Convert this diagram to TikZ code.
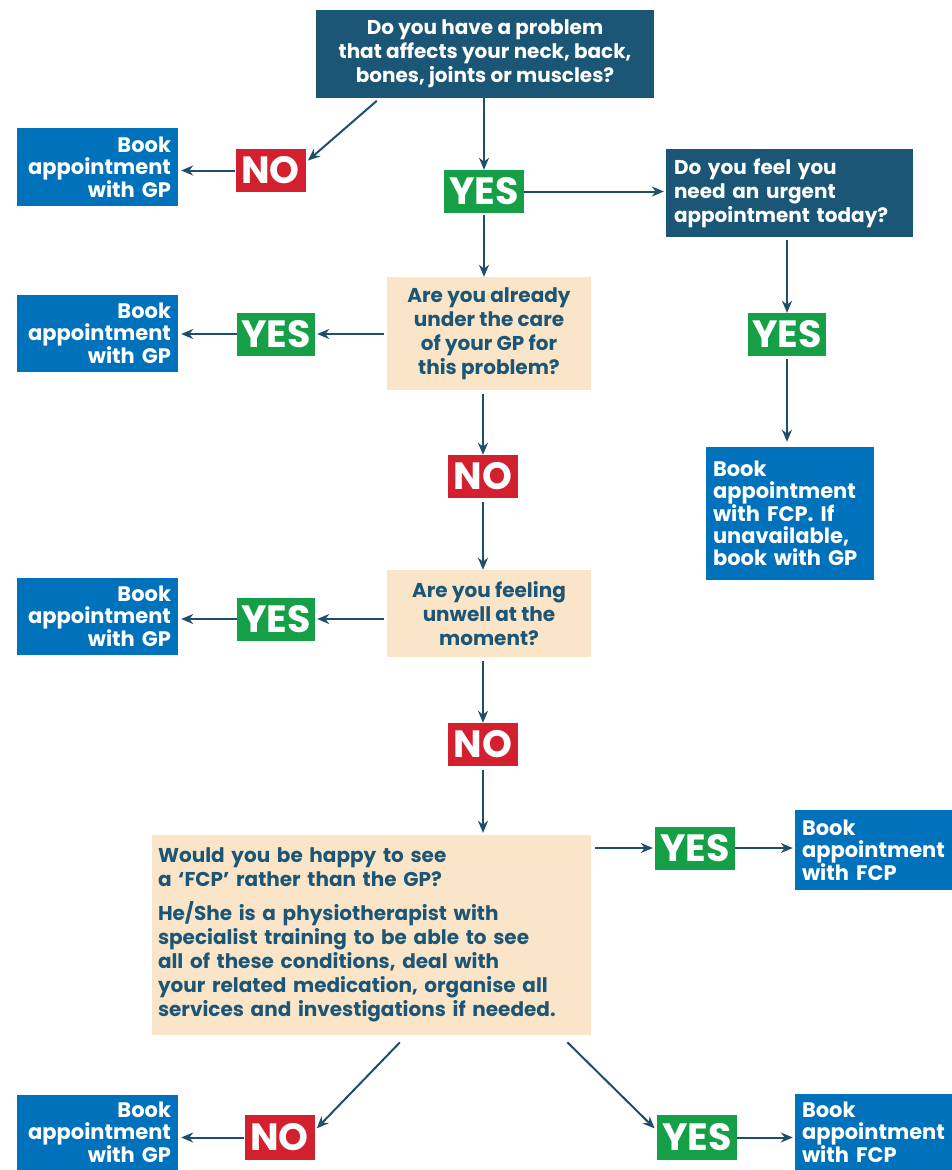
\documentclass[tikz,border=0pt]{standalone}
\usepackage{fontspec}
\setmainfont{Poppins}
\usetikzlibrary{arrows.meta}
\definecolor{qdark}{RGB}{27,86,118}
\definecolor{bookblue}{RGB}{0,114,187}
\definecolor{nored}{RGB}{211,32,46}
\definecolor{yesgreen}{RGB}{21,160,72}
\definecolor{beige}{RGB}{250,229,200}
\definecolor{arrowc}{RGB}{30,78,110}
\tikzset{
  qdarkbox/.style={fill=qdark,text=white,inner sep=0pt,align=center,
    font=\bfseries\fontsize{20}{24}\selectfont},
  qlightbox/.style={fill=beige,text=qdark,inner sep=0pt,align=center,
    font=\bfseries\fontsize{20}{24}\selectfont},
  bookbox/.style={fill=bookblue,text=white,inner xsep=7pt,inner ysep=0pt,
    font=\bfseries\fontsize{21}{22}\selectfont},
  yesbox/.style={fill=yesgreen,text=white,inner sep=0pt,minimum width=80pt,
    minimum height=43pt,font=\bfseries\fontsize{38}{38}\selectfont},
  nobox/.style={fill=nored,text=white,inner sep=0pt,minimum width=70pt,
    minimum height=43pt,font=\bfseries\fontsize{38}{38}\selectfont},
  arr/.style={->,draw=arrowc,line width=2pt},
}
\begin{document}
\begin{tikzpicture}[x=1pt,y=-1pt,>={Stealth[length=12pt,width=10pt]}]
\useasboundingbox[fill=white](0,0)rectangle(952,1170);
% questions
\node[qdarkbox,minimum width=338pt,minimum height=88pt](q1) at(485,54)
  {Do you have a problem\\that affects your neck, back,\\bones, joints or muscles?};
\node[qdarkbox,align=left,text width=231pt,inner xsep=8pt,minimum height=88pt](q2) at(789.5,193)
  {Do you feel you\\need an urgent\\appointment today?};
\node[qlightbox,minimum width=204pt,minimum height=113pt](q3) at(489,333.5)
  {Are you already\\under the care\\of your GP for\\this problem?};
\node[qlightbox,minimum width=204pt,minimum height=87pt](q4) at(489,613.5)
  {Are you feeling\\unwell at the\\moment?};
\node[qlightbox,align=left,text width=427pt,inner xsep=6pt,minimum height=200pt](q5) at(371.5,935)
  {Would you be happy to see\\a `FCP' rather than the GP?\\[10pt]
   He/She is a physiotherapist with\\specialist training to be able to see\\
   all of these conditions, deal with\\your related medication, organise all\\
   services and investigations if needed.};
% answers
\node[nobox](no1) at(270.5,170.5){NO};
\node[yesbox](yes1) at(484,191.5){YES};
\node[yesbox,minimum width=78pt](yes2) at(276,334){YES};
\node[yesbox,minimum width=78pt](yes3) at(787,334.5){YES};
\node[nobox](no2) at(483,476.5){NO};
\node[yesbox,minimum width=78pt](yes4) at(276,619){YES};
\node[nobox](no3) at(483,744.5){NO};
\node[yesbox](yes5) at(695,848){YES};
\node[nobox,minimum height=45pt](no4) at(279.5,1137.5){NO};
\node[yesbox,minimum height=45pt](yes6) at(697,1137.5){YES};
% bookings
\node[bookbox,align=right,text width=147pt,minimum height=78pt](gp1) at(97.5,167)
  {Book\\appointment\\with GP};
\node[bookbox,align=right,text width=147pt,minimum height=77pt](gp2) at(97.5,333.5)
  {Book\\appointment\\with GP};
\node[bookbox,align=right,text width=147pt,minimum height=77pt](gp3) at(97.5,616.5)
  {Book\\appointment\\with GP};
\node[bookbox,align=right,text width=147pt,minimum height=75pt](gp4) at(97.5,1132.5)
  {Book\\appointment\\with GP};
\node[bookbox,align=left,text width=154pt,minimum height=133pt](fcpgp) at(790,513.5)
  {Book\\appointment\\with FCP. If\\unavailable,\\book with GP};
\node[bookbox,align=left,text width=143pt,minimum height=80pt](fcp1) at(873.5,850)
  {Book\\appointment\\with FCP};
\node[bookbox,align=left,text width=143pt,minimum height=76pt](fcp2) at(873.5,1132)
  {Book\\appointment\\with FCP};
% connectors
\draw[arr](yes1|-q1.south)--(yes1);
\draw[arr,shorten <=4pt,shorten >=3pt]([xshift=64pt]q1.south west)--([yshift=8pt]no1.east);
\draw[arr,shorten >=3pt](no1.west)--(no1.west-|gp1.east);
\draw[arr,shorten >=2pt](yes1.east)--(yes1.east-|q2.west);
\draw[arr,shorten <=3pt](yes3|-q2.south)--(yes3);
\draw[arr,shorten <=3pt,shorten >=5pt](yes3)--(yes3|-fcpgp.north);
\draw[arr,shorten <=2pt](yes1)--(yes1|-q3.north);
\draw[arr,shorten <=3pt,shorten >=2pt](q3.west|-yes2)--(yes2);
\draw[arr,shorten >=3pt](yes2.west)--(yes2.west-|gp2.east);
\draw[arr,shorten <=4pt](no2|-q3.south)--(no2);
\draw[arr,shorten <=4pt](no2)--(no2|-q4.north);
\draw[arr,shorten <=3pt,shorten >=2pt](q4.west|-yes4)--(yes4);
\draw[arr,shorten >=3pt](yes4.west)--(yes4.west-|gp3.east);
\draw[arr,shorten <=4pt](no3|-q4.south)--(no3);
\draw[arr,shorten <=4pt,shorten >=2pt](no3)--(no3|-q5.north);
\draw[arr,shorten <=4pt,shorten >=2pt](q5.north east|-yes5)--(yes5);
\draw[arr,shorten >=2pt](yes5.east)--(yes5.east-|fcp1.west);
\draw[arr,shorten <=10pt,shorten >=3pt]([xshift=255pt]q5.south west)--([yshift=7pt]no4.east);
\draw[arr,shorten >=3pt](no4.west)--(no4.west-|gp4.east);
\draw[arr,shorten <=10pt,shorten >=3pt]([xshift=-31pt]q5.south east)--([yshift=7pt]yes6.west);
\draw[arr,shorten >=2pt](yes6.east)--(yes6.east-|fcp2.west);
\end{tikzpicture}
\end{document}
